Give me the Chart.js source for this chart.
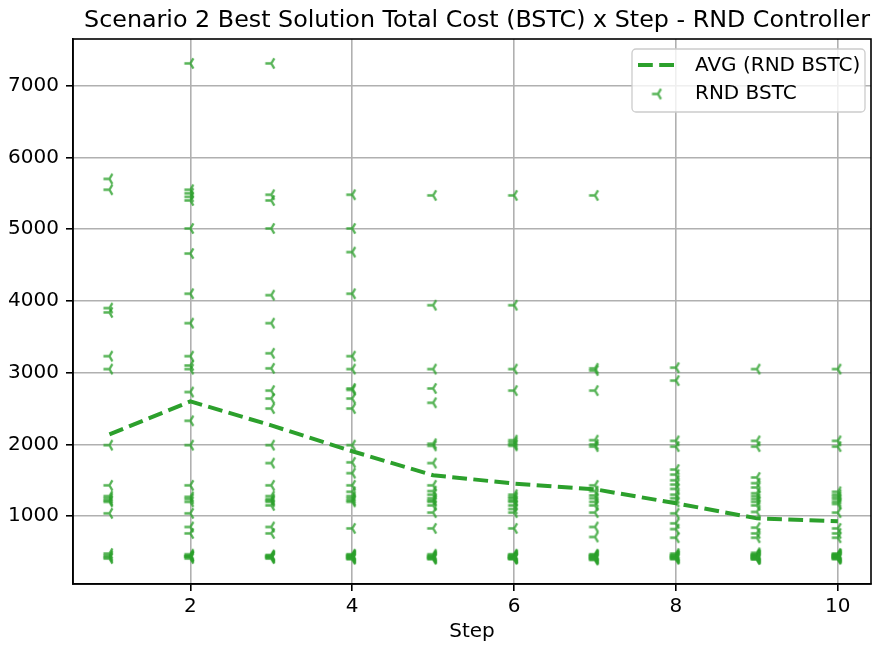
<!DOCTYPE html>
<html>
<head>
<meta charset="utf-8">
<script src="https://cdn.jsdelivr.net/npm/chart.js@4"></script>
<style>
  html, body { margin: 0; padding: 0; background: #fff; }
  #chart { display: block; }
</style>
</head>
<body>
<canvas id="chart" width="872" height="646"></canvas>
<script>
// values
const steps = [1, 2, 3, 4, 5, 6, 7, 8, 9, 10];
const avgBstc = [2140, 2600, 2265, 1905, 1570, 1455, 1375, 1180, 970, 930];

const step1Bstc = [5700, 5550, 3900, 3840, 3230, 3050, 1990, 1430, 1280, 1250, 1220, 1200, 1040, 480, 450, 430, 410];
const step2Bstc = [7310, 5550, 5500, 5450, 5400, 5010, 4660, 4100, 3690, 3230, 3100, 3050, 2730, 2330, 1990, 1430, 1270, 1240, 1200, 1040, 850, 760, 470, 450, 440, 440, 430, 410];
const step3Bstc = [7310, 5480, 5400, 5010, 4080, 3690, 3270, 3060, 2750, 2640, 2500, 1990, 1740, 1430, 1280, 1240, 1220, 1200, 1150, 850, 760, 460, 450, 440, 430, 420, 410];
const step4Bstc = [5480, 5010, 4680, 4100, 3230, 3050, 2780, 2760, 2640, 2500, 1990, 1750, 1600, 1430, 1340, 1280, 1250, 1220, 1200, 830, 470, 460, 450, 440, 430, 420, 410, 400];
const step5Bstc = [5470, 3940, 3050, 2780, 2580, 2010, 1980, 1740, 1430, 1350, 1300, 1250, 1220, 1200, 1150, 1050, 830, 470, 450, 440, 430, 420, 410, 400];
const step6Bstc = [5470, 3940, 3050, 2750, 2060, 2030, 2000, 1980, 1300, 1270, 1250, 1220, 1200, 1150, 1100, 1050, 830, 470, 460, 450, 440, 430, 430, 420, 410, 410, 400];
const step7Bstc = [5470, 3060, 3030, 2750, 2060, 2000, 1970, 1430, 1350, 1290, 1250, 1200, 1150, 1050, 850, 710, 470, 460, 450, 440, 430, 420, 410, 400, 390];
const step8Bstc = [3070, 2890, 2050, 1970, 1650, 1580, 1500, 1440, 1380, 1300, 1250, 1200, 1040, 900, 820, 700, 480, 460, 450, 440, 430, 420, 410, 400];
const step9Bstc = [3050, 2050, 1970, 1540, 1460, 1400, 1320, 1280, 1240, 1200, 1150, 1060, 840, 760, 700, 490, 470, 460, 460, 450, 440, 430, 430, 420, 410, 400, 400];
const step10Bstc = [3050, 2050, 1970, 1340, 1300, 1270, 1240, 1200, 1170, 1050, 830, 760, 700, 480, 470, 460, 460, 450, 440, 440, 430, 420, 420, 410, 400];

const rndRuns = [step1Bstc, step2Bstc, step3Bstc, step4Bstc, step5Bstc, step6Bstc, step7Bstc, step8Bstc, step9Bstc, step10Bstc];

const xTicks = [2, 4, 6, 8, 10];
const yTicks = [1000, 2000, 3000, 4000, 5000, 6000, 7000];

const GREEN = "#2ca02c";
const FONT = "DejaVu Sans";

// matplotlib "tri_left" marker
const makeTriLeft = (size, color, lw) => {
    const c = document.createElement("canvas");
    c.width = c.height = 17;
    const ctx = c.getContext("2d");
    const cx = c.width / 2, cy = c.height / 2, r = size / 2;
    ctx.strokeStyle = color;
    ctx.lineWidth = lw;
    ctx.beginPath();
    ctx.moveTo(cx - r, cy);
    ctx.lineTo(cx, cy);
    ctx.moveTo(cx + r * 0.5, cy - r * 0.866);
    ctx.lineTo(cx, cy);
    ctx.lineTo(cx + r * 0.5, cy + r * 0.866);
    ctx.stroke();
    return c;
};
const triMarker = makeTriLeft(12, "rgba(44,160,44,0.8)", 2.3);

const framePlugin = {
    id: "frame",
    afterDatasetsDraw(chart) {
        const { ctx, chartArea: a } = chart;
        ctx.save();
        ctx.strokeStyle = "#000";
        ctx.lineWidth = 1.6;
        ctx.strokeRect(a.left, a.top, a.right - a.left, a.bottom - a.top);
        ctx.restore();
    },
};

const titlePlugin = {
    id: "mplTitle",
    afterDraw(chart) {
        const { ctx, chartArea: a } = chart;
        ctx.save();
        ctx.font = `23.8px "${FONT}"`;
        ctx.fillStyle = "#000";
        ctx.textAlign = "center";
        ctx.textBaseline = "alphabetic";
        ctx.fillText("Scenario 2 Best Solution Total Cost (BSTC) x Step - RND Controller", (a.left + a.right) / 2 + 5, 27);
        ctx.restore();
    },
};

const legendPlugin = {
    id: "mplLegend",
    afterDraw(chart) {
        const { ctx } = chart;
        const ds = chart.data.datasets;
        const x = 632, y = 49, w = 233, h = 63, rad = 4;
        ctx.save();
        ctx.beginPath();
        ctx.moveTo(x + rad, y);
        ctx.arcTo(x + w, y, x + w, y + h, rad);
        ctx.arcTo(x + w, y + h, x, y + h, rad);
        ctx.arcTo(x, y + h, x, y, rad);
        ctx.arcTo(x, y, x + w, y, rad);
        ctx.closePath();
        ctx.fillStyle = "rgba(255,255,255,0.8)";
        ctx.fill();
        ctx.strokeStyle = "#cccccc";
        ctx.lineWidth = 1.3;
        ctx.stroke();

        ctx.strokeStyle = ds[0].borderColor;
        ctx.lineWidth = ds[0].borderWidth;
        ctx.setLineDash(ds[0].borderDash);
        ctx.beginPath();
        ctx.moveTo(638, 65);
        ctx.lineTo(674, 65);
        ctx.stroke();
        ctx.setLineDash([]);

        ctx.drawImage(triMarker, 658 - triMarker.width / 2, 94 - triMarker.height / 2);

        ctx.font = `20px "${FONT}"`;
        ctx.fillStyle = "#000";
        ctx.textBaseline = "middle";
        ctx.fillText(ds[0].label, 695, 66);
        ctx.fillText(ds[1].label, 695, 94);
        ctx.restore();
    },
};

const tickFont = { family: FONT, size: 20 };
const gridOpts = { color: "#b0b0b0", lineWidth: 1.6, tickColor: "#000", tickWidth: 1.6, tickLength: 7 };

new Chart(document.getElementById("chart"), {
    type: "scatter",
    data: {
        datasets: [
            {
                label: "AVG (RND BSTC)",
                data: steps.map((s, i) => ({ x: s, y: avgBstc[i] })),
                showLine: true,
                borderColor: GREEN,
                backgroundColor: GREEN,
                borderWidth: 4,
                borderDash: [14.8, 6.4],
                pointRadius: 0,
                tension: 0,
            },
            {
                label: "RND BSTC",
                data: rndRuns.flatMap((runs, i) => runs.map((v) => ({ x: steps[i], y: v }))),
                pointStyle: triMarker,
                pointRadius: 6,
                borderColor: GREEN,
                backgroundColor: GREEN,
            },
        ],
    },
    options: {
        responsive: false,
        animation: false,
        devicePixelRatio: 1,
        layout: { autoPadding: false, padding: { top: 39, right: 1, left: 0, bottom: 0 } },
        plugins: {
            legend: { display: false },
            title: { display: false },
            tooltip: { enabled: false },
        },
        scales: {
            x: {
                type: "linear",
                min: 0.55,
                max: 10.41,
                afterBuildTicks: (scale) => { scale.ticks = xTicks.map((v) => ({ value: v })); },
                afterFit: (scale) => {
                    scale.height = 62;
                    scale.paddingLeft = 0;
                    scale.paddingRight = 0;
                },
                ticks: { font: tickFont, color: "#000", padding: 4, maxRotation: 0, autoSkip: false },
                grid: gridOpts,
                border: { display: true, color: "#000", width: 1.6 },
                title: { display: true, text: "Step", font: tickFont, color: "#000", padding: { top: 0, bottom: 2 } },
            },
            y: {
                type: "linear",
                min: 55,
                max: 7650,
                afterBuildTicks: (scale) => { scale.ticks = yTicks.map((v) => ({ value: v })); },
                afterFit: (scale) => {
                    scale.width = 73;
                    scale.paddingTop = 0;
                    scale.paddingBottom = 0;
                },
                ticks: { font: tickFont, color: "#000", padding: 7, callback: (v) => String(v) },
                grid: gridOpts,
                border: { display: true, color: "#000", width: 1.6 },
            },
        },
    },
    plugins: [framePlugin, titlePlugin, legendPlugin],
});
</script>
</body>
</html>
